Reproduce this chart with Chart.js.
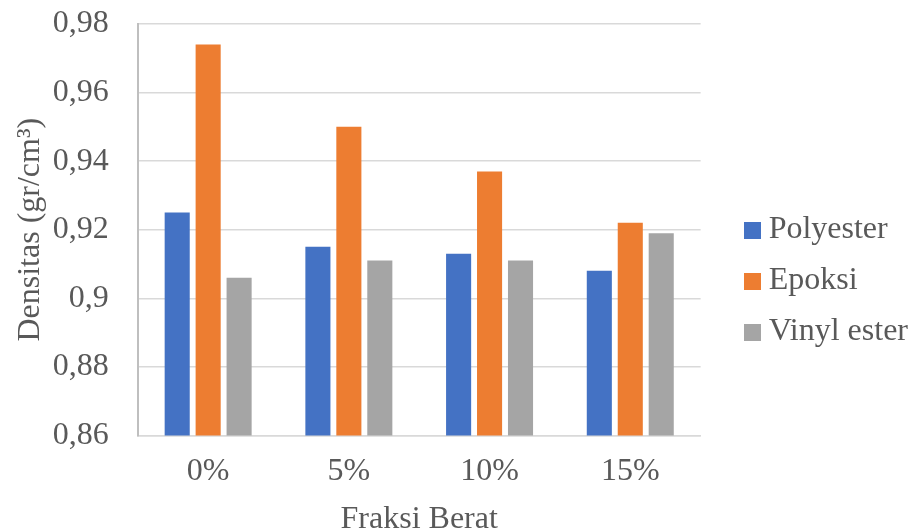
<!DOCTYPE html>
<html>
<head>
<meta charset="utf-8">
<script src="https://cdn.jsdelivr.net/npm/chart.js@4/dist/chart.umd.min.js"></script>
<style>
  html, body { margin: 0; padding: 0; background: #ffffff; }
  #wrap { width: 908px; height: 531px; }
</style>
</head>
<body>
<div id="wrap"><canvas id="c" width="908" height="531"></canvas></div>
<script>
// Density of the composites by weight fraction of filler
const categories = ['0%', '5%', '10%', '15%'];
const polyester = [0.925, 0.915, 0.913, 0.908];
const epoksi = [0.974, 0.950, 0.937, 0.922];
const vinylEster = [0.906, 0.911, 0.911, 0.919];
const yTicks = [0.86, 0.88, 0.90, 0.92, 0.94, 0.96, 0.98];

const seriesColors = ['#4472c4', '#ed7d31', '#a5a5a5'];
const serif = '"Liberation Serif", "Times New Roman", serif';
const textColor = '#595959';
const fontSize = 32;

function fmt(v) {
  return Number(v.toFixed(2)).toString().replace('.', ',');
}

// Small solid square used as the legend marker
function squareMarker(color, size) {
  const cv = document.createElement('canvas');
  cv.width = size; cv.height = size;
  const g = cv.getContext('2d');
  g.fillStyle = color;
  g.fillRect(0, 0, size, size);
  return cv;
}

// Nudges the legend block after layout so it sits apart from the plot
const legendOffset = {
  id: 'legendOffset',
  afterLayout(chart, args, opts) {
    const lg = chart.legend;
    if (!lg) return;
    lg.left += opts.dx; lg.right += opts.dx;
    lg.top += opts.dy; lg.bottom += opts.dy;
    if (lg.legendHitBoxes) {
      lg.legendHitBoxes.forEach(h => { h.left += opts.dx; h.top += opts.dy; });
    }
  }
};

new Chart(document.getElementById('c'), {
  type: 'bar',
  data: {
    labels: categories,
    datasets: [
      { label: 'Polyester', data: polyester, backgroundColor: seriesColors[0] },
      { label: 'Epoksi', data: epoksi, backgroundColor: seriesColors[1] },
      { label: 'Vinyl ester', data: vinylEster, backgroundColor: seriesColors[2] }
    ]
  },
  plugins: [legendOffset],
  options: {
    responsive: false,
    animation: false,
    layout: { padding: { top: 24, right: 22, left: 12, bottom: -7 } },
    datasets: {
      bar: { categoryPercentage: 0.66, barPercentage: 0.81 }
    },
    scales: {
      x: {
        grid: { display: false, drawTicks: false },
        border: { color: '#d9d9d9', width: 1.5 },
        ticks: { color: textColor, font: { family: serif, size: fontSize, lineHeight: 1.15 }, padding: 18 },
        title: {
          display: true, text: 'Fraksi Berat', color: textColor,
          font: { family: serif, size: fontSize, lineHeight: 1.15 }, padding: { top: -7, bottom: 0 }
        }
      },
      y: {
        min: 0.86,
        max: 0.98,
        afterBuildTicks: (axis) => { axis.ticks = yTicks.map(v => ({ value: v })); },
        afterFit: (axis) => { axis.paddingTop = 0; axis.paddingBottom = 0; },
        grid: { color: '#d9d9d9', lineWidth: 1.5, drawTicks: false },
        border: { color: '#bfbfbf', width: 2 },
        ticks: {
          color: textColor, font: { family: serif, size: fontSize }, padding: 29,
          callback: (v) => fmt(v)
        },
        title: {
          display: true, text: 'Densitas (gr/cm³)', color: textColor,
          font: { family: serif, size: fontSize, lineHeight: 1.15 }, padding: { top: 0, bottom: -25 }
        }
      }
    },
    plugins: {
      legend: {
        position: 'right',
        labels: {
          color: textColor,
          font: { family: serif, size: fontSize },
          usePointStyle: true,
          boxWidth: 1, boxHeight: 17,
          padding: 19,
          generateLabels: (chart) => {
            const items = Chart.defaults.plugins.legend.labels.generateLabels(chart);
            items.forEach((it, i) => { it.pointStyle = squareMarker(seriesColors[i], 17); });
            return items;
          }
        }
      },
      legendOffset: { dx: 32, dy: 0 },
      tooltip: { enabled: false }
    }
  }
});
</script>
</body>
</html>
